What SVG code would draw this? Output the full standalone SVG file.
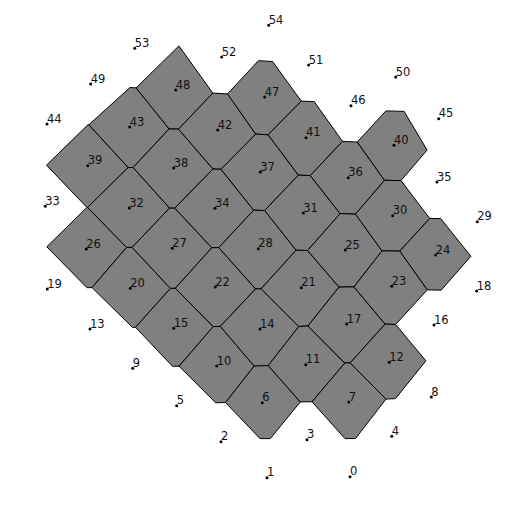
<svg xmlns="http://www.w3.org/2000/svg" width="512" height="512" viewBox="0 0 512 512">
<style>
.cell{fill:#808080;stroke:#000;stroke-width:1;stroke-linejoin:miter}
.dot{fill:#000}
.lbl{font-family:"DejaVu Sans","Liberation Sans",sans-serif;font-size:11.5px;fill:#111}
</style>
<rect x="0" y="0" width="512" height="512" fill="#fff"/>
<g id="cells">
<polygon id="cell-39" class="cell" points="87.9,124.8 88.9,124.8 128.2,167.5 87.6,207.4 86.9,207.4 46.5,165.2"/>
<polygon id="cell-26" class="cell" points="86.9,207.4 87.6,207.4 126.6,247.4 92,287.6 87,287.7 46.8,246.8"/>
<polygon id="cell-43" class="cell" points="130.0,87.5 136.1,87.9 169.1,128.9 133.1,167.5 128.2,167.5 88.9,124.8"/>
<polygon id="cell-32" class="cell" points="128.2,167.5 133.1,167.5 169.6,208.1 132.1,247.4 126.6,247.4 87.6,207.4"/>
<polygon id="cell-20" class="cell" points="126.6,247.4 132.1,247.4 170.4,288.4 135.5,327.3 132.5,327.4 92,287.6"/>
<polygon id="cell-48" class="cell" points="178.9,45.9 212.8,93.1 178.5,129.1 169.1,128.9 136.1,87.9"/>
<polygon id="cell-38" class="cell" points="169.1,128.9 178.5,129.1 213.0,169.0 174.8,208.2 169.6,208.1 133.1,167.5"/>
<polygon id="cell-27" class="cell" points="169.6,208.1 174.8,208.2 211.8,247.7 175.3,288.3 170.4,288.4 132.1,247.4"/>
<polygon id="cell-15" class="cell" points="170.4,288.4 175.3,288.3 213.3,326.6 179,366.2 172.5,366.3 135.5,327.3"/>
<polygon id="cell-42" class="cell" points="212.8,93.1 227.5,93.9 255.7,134.1 221.0,169.3 213.0,169.0 178.5,129.1"/>
<polygon id="cell-34" class="cell" points="213.0,169.0 221.0,169.3 253.7,210.2 218.8,247.6 211.8,247.7 174.8,208.2"/>
<polygon id="cell-22" class="cell" points="211.8,247.7 218.8,247.6 255.6,288.9 220.3,326.4 213.3,326.6 175.3,288.3"/>
<polygon id="cell-10" class="cell" points="213.3,326.6 220.3,326.4 254.2,366.1 225.5,402.5 215.7,402.8 179,366.2"/>
<polygon id="cell-47" class="cell" points="258.4,60.7 272.5,61.5 301.3,101.1 268.1,134.8 255.7,134.1 227.5,93.9"/>
<polygon id="cell-37" class="cell" points="255.7,134.1 268.1,134.8 298.4,175.1 264.7,210.5 253.7,210.2 221.0,169.3"/>
<polygon id="cell-28" class="cell" points="253.7,210.2 264.7,210.5 296.1,250.2 261.1,288.8 255.6,288.9 218.8,247.6"/>
<polygon id="cell-14" class="cell" points="255.6,288.9 261.1,288.8 298.8,326.5 268.2,365.6 254.2,366.1 220.3,326.4"/>
<polygon id="cell-6" class="cell" points="254.2,366.1 268.2,365.6 300.3,401.9 270.3,438.6 260,438.6 225.5,402.5"/>
<polygon id="cell-41" class="cell" points="301.3,101.1 314.2,101.6 342.5,141.4 310.3,175.6 298.4,175.1 268.1,134.8"/>
<polygon id="cell-31" class="cell" points="298.4,175.1 310.3,175.6 340.1,213.6 307.6,250.5 296.1,250.2 264.7,210.5"/>
<polygon id="cell-21" class="cell" points="296.1,250.2 307.6,250.5 339.0,287.1 307.9,326.0 298.8,326.5 261.1,288.8"/>
<polygon id="cell-11" class="cell" points="298.8,326.5 307.9,326.0 344.8,363.1 312,401.8 300.3,401.9 268.2,365.6"/>
<polygon id="cell-36" class="cell" points="342.5,141.4 357.3,142.0 384.5,180.3 355.5,214.2 340.1,213.6 310.3,175.6"/>
<polygon id="cell-25" class="cell" points="340.1,213.6 355.5,214.2 382.0,250.9 353.9,286.9 339.0,287.1 307.6,250.5"/>
<polygon id="cell-17" class="cell" points="339.0,287.1 353.9,286.9 385.1,324.1 350.2,362.9 344.8,363.1 307.9,326.0"/>
<polygon id="cell-7" class="cell" points="344.8,363.1 350.2,362.9 386,399.1 355.5,438.5 345,438.6 312,401.8"/>
<polygon id="cell-40" class="cell" points="385.9,110.9 404.1,111.4 427.1,150.1 401.0,180.6 384.5,180.3 357.3,142.0"/>
<polygon id="cell-30" class="cell" points="384.5,180.3 401.0,180.6 429.7,218.4 399.8,251.1 382.0,250.9 355.5,214.2"/>
<polygon id="cell-23" class="cell" points="382.0,250.9 399.8,251.1 427.3,289.8 395.6,324.5 385.1,324.1 353.9,286.9"/>
<polygon id="cell-12" class="cell" points="385.1,324.1 395.6,324.5 425.9,360.8 395.5,398.6 386,399.1 350.2,362.9"/>
<polygon id="cell-24" class="cell" points="429.7,218.4 440.7,218.6 470.9,256.3 441.1,290.2 427.3,289.8 399.8,251.1"/>
</g>
<g id="connectors"/>
<g id="sites">
<g id="site-0"><circle class="dot" cx="350" cy="476.7" r="1.5"/><text class="lbl" x="350" y="475.2">0</text></g>
<g id="site-1"><circle class="dot" cx="267" cy="477.7" r="1.5"/><text class="lbl" x="267" y="476.2">1</text></g>
<g id="site-2"><circle class="dot" cx="221" cy="441.7" r="1.5"/><text class="lbl" x="221" y="440.2">2</text></g>
<g id="site-3"><circle class="dot" cx="307" cy="439.7" r="1.5"/><text class="lbl" x="307" y="438.2">3</text></g>
<g id="site-4"><circle class="dot" cx="391.7" cy="436.3" r="1.5"/><text class="lbl" x="391.7" y="434.8">4</text></g>
<g id="site-5"><circle class="dot" cx="176.7" cy="405.7" r="1.5"/><text class="lbl" x="176.7" y="404.2">5</text></g>
<g id="site-6"><circle class="dot" cx="262.3" cy="402.7" r="1.5"/><text class="lbl" x="262.3" y="401.2">6</text></g>
<g id="site-7"><circle class="dot" cx="348.7" cy="402" r="1.5"/><text class="lbl" x="348.7" y="400.5">7</text></g>
<g id="site-8"><circle class="dot" cx="431.3" cy="397" r="1.5"/><text class="lbl" x="431.3" y="395.5">8</text></g>
<g id="site-9"><circle class="dot" cx="132.7" cy="368.3" r="1.5"/><text class="lbl" x="132.7" y="366.8">9</text></g>
<g id="site-10"><circle class="dot" cx="216.7" cy="366" r="1.5"/><text class="lbl" x="216.7" y="364.5">10</text></g>
<g id="site-11"><circle class="dot" cx="305.7" cy="364.7" r="1.5"/><text class="lbl" x="305.7" y="363.2">11</text></g>
<g id="site-12"><circle class="dot" cx="389.3" cy="362.3" r="1.5"/><text class="lbl" x="389.3" y="360.8">12</text></g>
<g id="site-13"><circle class="dot" cx="90" cy="329" r="1.5"/><text class="lbl" x="90" y="327.5">13</text></g>
<g id="site-14"><circle class="dot" cx="260" cy="329" r="1.5"/><text class="lbl" x="260" y="327.5">14</text></g>
<g id="site-15"><circle class="dot" cx="173.7" cy="328.3" r="1.5"/><text class="lbl" x="173.7" y="326.8">15</text></g>
<g id="site-16"><circle class="dot" cx="434" cy="325" r="1.5"/><text class="lbl" x="434" y="323.5">16</text></g>
<g id="site-17"><circle class="dot" cx="346.7" cy="324" r="1.5"/><text class="lbl" x="346.7" y="322.5">17</text></g>
<g id="site-18"><circle class="dot" cx="476.7" cy="291" r="1.5"/><text class="lbl" x="476.7" y="289.5">18</text></g>
<g id="site-19"><circle class="dot" cx="47.3" cy="289" r="1.5"/><text class="lbl" x="47.3" y="287.5">19</text></g>
<g id="site-20"><circle class="dot" cx="130.3" cy="288.3" r="1.5"/><text class="lbl" x="130.3" y="286.8">20</text></g>
<g id="site-21"><circle class="dot" cx="301.3" cy="287.7" r="1.5"/><text class="lbl" x="301.3" y="286.2">21</text></g>
<g id="site-22"><circle class="dot" cx="215.3" cy="287" r="1.5"/><text class="lbl" x="215.3" y="285.5">22</text></g>
<g id="site-23"><circle class="dot" cx="391.7" cy="286.3" r="1.5"/><text class="lbl" x="391.7" y="284.8">23</text></g>
<g id="site-24"><circle class="dot" cx="435.7" cy="255" r="1.5"/><text class="lbl" x="435.7" y="253.5">24</text></g>
<g id="site-25"><circle class="dot" cx="345.3" cy="250" r="1.5"/><text class="lbl" x="345.3" y="248.5">25</text></g>
<g id="site-26"><circle class="dot" cx="86.3" cy="249" r="1.5"/><text class="lbl" x="86.3" y="247.5">26</text></g>
<g id="site-27"><circle class="dot" cx="172.3" cy="248.3" r="1.5"/><text class="lbl" x="172.3" y="246.8">27</text></g>
<g id="site-28"><circle class="dot" cx="258.3" cy="248.7" r="1.5"/><text class="lbl" x="258.3" y="247.2">28</text></g>
<g id="site-29"><circle class="dot" cx="477.3" cy="221.7" r="1.5"/><text class="lbl" x="477.3" y="220.2">29</text></g>
<g id="site-30"><circle class="dot" cx="392.7" cy="215.7" r="1.5"/><text class="lbl" x="392.7" y="214.2">30</text></g>
<g id="site-31"><circle class="dot" cx="303.3" cy="213" r="1.5"/><text class="lbl" x="303.3" y="211.5">31</text></g>
<g id="site-32"><circle class="dot" cx="129.3" cy="208" r="1.5"/><text class="lbl" x="129.3" y="206.5">32</text></g>
<g id="site-33"><circle class="dot" cx="45.3" cy="206.3" r="1.5"/><text class="lbl" x="45.3" y="204.8">33</text></g>
<g id="site-34"><circle class="dot" cx="215" cy="208.3" r="1.5"/><text class="lbl" x="215" y="206.8">34</text></g>
<g id="site-35"><circle class="dot" cx="437" cy="182" r="1.5"/><text class="lbl" x="437" y="180.5">35</text></g>
<g id="site-36"><circle class="dot" cx="348.3" cy="177.7" r="1.5"/><text class="lbl" x="348.3" y="176.2">36</text></g>
<g id="site-37"><circle class="dot" cx="260.3" cy="172" r="1.5"/><text class="lbl" x="260.3" y="170.5">37</text></g>
<g id="site-38"><circle class="dot" cx="173.7" cy="168" r="1.5"/><text class="lbl" x="173.7" y="166.5">38</text></g>
<g id="site-39"><circle class="dot" cx="87.7" cy="165.7" r="1.5"/><text class="lbl" x="87.7" y="164.2">39</text></g>
<g id="site-40"><circle class="dot" cx="394" cy="145.3" r="1.5"/><text class="lbl" x="394" y="143.8">40</text></g>
<g id="site-41"><circle class="dot" cx="306" cy="137.7" r="1.5"/><text class="lbl" x="306" y="136.2">41</text></g>
<g id="site-42"><circle class="dot" cx="217.7" cy="130" r="1.5"/><text class="lbl" x="217.7" y="128.5">42</text></g>
<g id="site-43"><circle class="dot" cx="129.7" cy="127" r="1.5"/><text class="lbl" x="129.7" y="125.5">43</text></g>
<g id="site-44"><circle class="dot" cx="47" cy="124" r="1.5"/><text class="lbl" x="47" y="122.5">44</text></g>
<g id="site-45"><circle class="dot" cx="438.7" cy="118.7" r="1.5"/><text class="lbl" x="438.7" y="117.2">45</text></g>
<g id="site-46"><circle class="dot" cx="351" cy="105.7" r="1.5"/><text class="lbl" x="351" y="104.2">46</text></g>
<g id="site-47"><circle class="dot" cx="264.7" cy="97" r="1.5"/><text class="lbl" x="264.7" y="95.5">47</text></g>
<g id="site-48"><circle class="dot" cx="175.7" cy="90" r="1.5"/><text class="lbl" x="175.7" y="88.5">48</text></g>
<g id="site-49"><circle class="dot" cx="90.7" cy="84" r="1.5"/><text class="lbl" x="90.7" y="82.5">49</text></g>
<g id="site-50"><circle class="dot" cx="395.7" cy="77" r="1.5"/><text class="lbl" x="395.7" y="75.5">50</text></g>
<g id="site-51"><circle class="dot" cx="308.7" cy="65" r="1.5"/><text class="lbl" x="308.7" y="63.5">51</text></g>
<g id="site-52"><circle class="dot" cx="221.7" cy="57" r="1.5"/><text class="lbl" x="221.7" y="55.5">52</text></g>
<g id="site-53"><circle class="dot" cx="134.7" cy="48.3" r="1.5"/><text class="lbl" x="134.7" y="46.8">53</text></g>
<g id="site-54"><circle class="dot" cx="268.7" cy="25.3" r="1.5"/><text class="lbl" x="268.7" y="23.8">54</text></g>
</g>
</svg>
